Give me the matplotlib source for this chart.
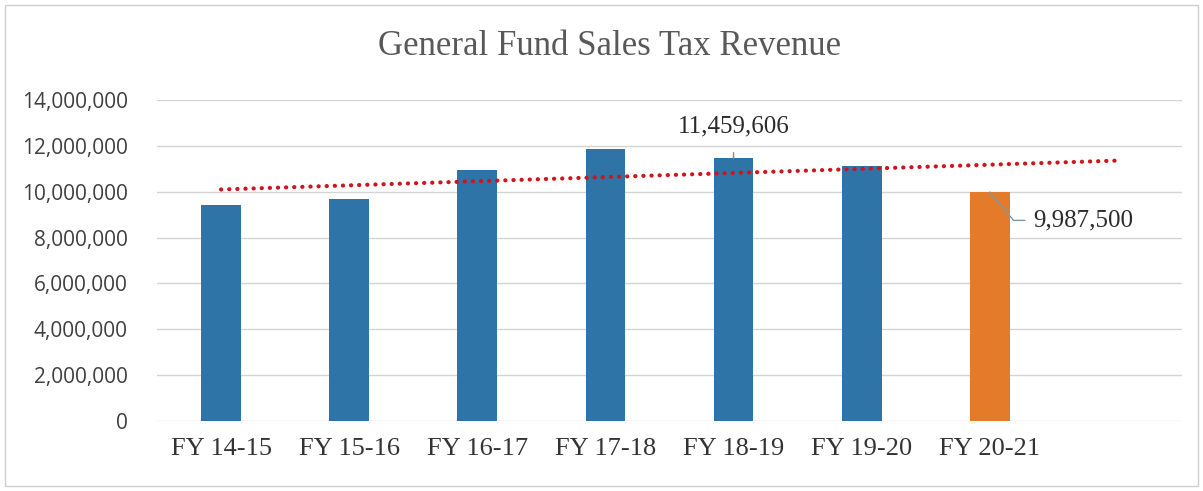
import matplotlib.pyplot as plt
from matplotlib.patches import Rectangle
import numpy as np

# values
years = ['FY 14-15', 'FY 15-16', 'FY 16-17', 'FY 17-18', 'FY 18-19', 'FY 19-20', 'FY 20-21']
revenue = [9440000, 9670000, 10940000, 11860000, 11459606, 11110000, 9987500]
bar_colors = ['#2f74a6'] * 6 + ['#e37b2a']
yticks = [0, 2000000, 4000000, 6000000, 8000000, 10000000, 12000000, 14000000]

fig = plt.figure(figsize=(12.03, 4.91), dpi=100)
ax = fig.add_axes([0.1305, 0.1426, 0.852, 0.6537])

x = np.arange(len(years))
ax.bar(x, revenue, width=0.31, color=bar_colors, zorder=3)

# linear trend, forecast one period forward
k, b = np.polyfit(x, revenue, 1)
xt = np.linspace(0, len(years), 50)
ax.plot(xt, k * xt + b, color='#d0141c', lw=3.0, ls=(0, (0.05, 1.9)),
        dash_capstyle='round', zorder=4)

ax.set_xlim(-0.5, 7.5)
ax.set_ylim(0, 14000000)
ax.set_yticks(yticks)
ax.set_yticklabels(['{:,}'.format(v) for v in yticks], fontsize=15,
                   family='Open Sans', color='#404040')
ax.set_xticks(x)
ax.set_xticklabels(years, fontsize=19, family='Liberation Serif', color='#333333')
ax.tick_params(axis='x', length=0, pad=12)
ax.tick_params(axis='y', length=0, pad=21)
ax.grid(axis='y', color='#d4d4d4', lw=1, zorder=0)
for s in ax.spines.values():
    s.set_visible(False)

# data labels with leader lines
ax.annotate('{:,}'.format(revenue[4]), xy=(4, revenue[4]), xytext=(4, 12850000),
            ha='center', va='center', fontsize=18, family='Liberation Serif', color='#2b2b2b',
            arrowprops=dict(arrowstyle='-', color='#8a8a8a', lw=1, shrinkA=9, shrinkB=0))
ax.annotate('{:,}'.format(revenue[6]), xy=(6.0, revenue[6]), xytext=(6.34, 8750000),
            ha='left', va='center', fontsize=18, family='Liberation Serif', color='#2b2b2b',
            arrowprops=dict(arrowstyle='-', color='#7d9aa8', lw=1, shrinkA=4, shrinkB=0,
                            connectionstyle='angle,angleA=0,angleB=-50,rad=0'))

fig.text(0.507, 0.905, 'General Fund Sales Tax Revenue', ha='center', va='center',
         fontsize=25, family='Liberation Serif', color='#595959')

fig.patches.append(Rectangle((0.004, 0.01), 0.992, 0.98, transform=fig.transFigure,
                             fill=False, ec='#d0d0d0', lw=1))

fig.savefig('out.png', dpi=100)
